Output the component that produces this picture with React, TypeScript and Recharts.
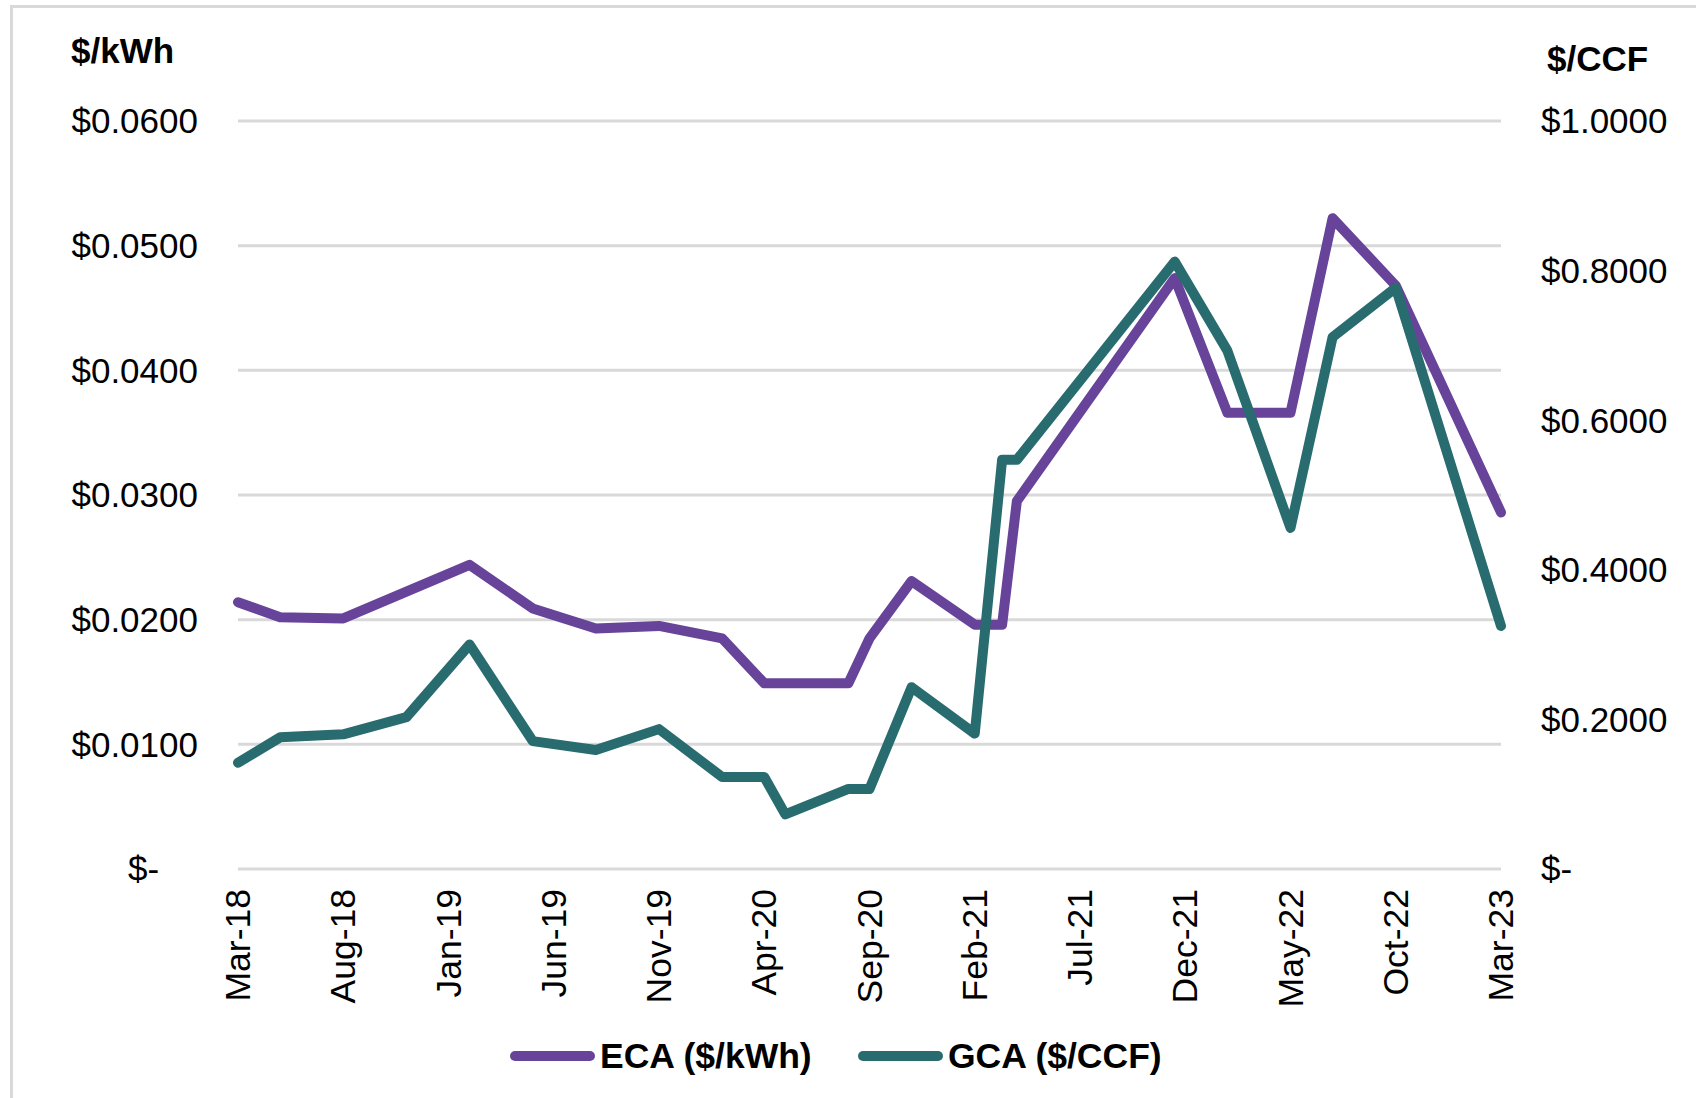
import { LineChart, Line, XAxis, YAxis, CartesianGrid } from 'recharts'

// ECA / GCA rate history, Mar-18 .. Mar-23
// x = months since Mar-18 (points are not evenly spaced)
const MONTH_INDEX = [0, 2, 5, 8, 11, 14, 17, 20, 23, 25, 26, 29, 30, 32, 35, 36.3, 37, 44.5, 47, 50, 52, 55, 60]
const ECA = [0.0214, 0.0202, 0.0201, null, 0.0244, 0.0209, 0.0193, 0.0195, 0.0185, 0.0149, null, 0.0149, 0.0185, 0.0231, 0.0196, 0.0196, 0.0295, 0.0474, 0.0366, 0.0366, 0.0522, 0.0468, 0.0286]
const GCA = [0.142, 0.176, 0.180, 0.203, 0.300, 0.171, 0.159, 0.187, 0.123, 0.123, 0.073, 0.107, 0.107, 0.243, 0.181, 0.547, 0.547, 0.812, 0.693, 0.456, 0.711, 0.777, 0.325]

const TICK_MONTHS = [0, 5, 10, 15, 20, 25, 30, 35, 40, 45, 50, 55, 60]
const TICK_LABELS = ['Mar-18', 'Aug-18', 'Jan-19', 'Jun-19', 'Nov-19', 'Apr-20', 'Sep-20', 'Feb-21', 'Jul-21', 'Dec-21', 'May-22', 'Oct-22', 'Mar-23']
const LEFT_TICKS = [0, 0.01, 0.02, 0.03, 0.04, 0.05, 0.06]
const RIGHT_TICKS = [0, 0.2, 0.4, 0.6, 0.8, 1.0]

const PURPLE = '#67439a'
const TEAL = '#286c70'
const GRID = '#d9d9d9'
const FONT = '"Liberation Sans", Arial, sans-serif'

const data = MONTH_INDEX.map((m, i) => ({ m, eca: ECA[i], gca: GCA[i] }))

// accounting style: zero shows as "$-" padded on the left axis
const fmtLeft = (v: number) => (v === 0 ? '$-\u00a0\u00a0\u00a0\u00a0' : '$' + v.toFixed(4))
const fmtRight = (v: number) => (v === 0 ? '$-' : '$' + v.toFixed(4))

// rotated month labels, reading bottom to top
// eslint-disable-next-line @typescript-eslint/no-explicit-any
function MonthTick({ x, y, payload }: any) {
  const i = TICK_MONTHS.indexOf(payload.value)
  return (
    <text
      x={x}
      y={y}
      transform={`rotate(-90 ${x} ${y})`}
      textAnchor="end"
      dominantBaseline="central"
      fontSize={35.5}
      fontFamily={FONT}
      fill="#000"
    >
      {TICK_LABELS[i]}
    </text>
  )
}

export default function App() {
  return (
    <div
      style={{
        position: 'absolute',
        left: 0,
        top: 0,
        width: 1696,
        height: 1098,
        overflow: 'hidden',
        background: '#fff',
        fontFamily: FONT,
      }}
    >
      {/* chart area frame, cut by the picture edge */}
      <div
        style={{
          position: 'absolute',
          left: 10,
          top: 5,
          width: 2000,
          height: 2000,
          border: `3px solid ${GRID}`,
        }}
      />

      <div style={{ position: 'absolute', left: 0, top: 0 }}>
        <LineChart width={1696} height={1098} data={data} margin={{ top: 121, right: 0, bottom: 99, left: 0 }}>
          <CartesianGrid horizontal vertical={false} stroke={GRID} strokeWidth={3} yAxisId="left" />

          <XAxis
            dataKey="m"
            type="number"
            domain={[0, 60]}
            ticks={TICK_MONTHS}
            interval={0}
            height={130}
            axisLine={false}
            tickLine={false}
            tickSize={0}
            tickMargin={20}
            tick={<MonthTick />}
          />

          <YAxis
            yAxisId="left"
            orientation="left"
            width={238}
            domain={[0, 0.06]}
            ticks={LEFT_TICKS}
            interval={0}
            axisLine={false}
            tickLine={false}
            tickSize={0}
            tickMargin={40}
            tickFormatter={fmtLeft}
            tick={{ fontSize: 35, fill: '#000', fontFamily: FONT }}
          />

          <YAxis
            yAxisId="right"
            orientation="right"
            width={195}
            domain={[0, 1]}
            ticks={RIGHT_TICKS}
            interval={0}
            axisLine={false}
            tickLine={false}
            tickSize={0}
            tickMargin={40}
            tickFormatter={fmtRight}
            tick={{ fontSize: 35, fill: '#000', fontFamily: FONT }}
          />

          <Line
            yAxisId="left"
            type="linear"
            dataKey="eca"
            name="ECA ($/kWh)"
            stroke={PURPLE}
            strokeWidth={10}
            strokeLinejoin="round"
            strokeLinecap="round"
            dot={false}
            activeDot={false}
            connectNulls
            isAnimationActive={false}
          />
          <Line
            yAxisId="right"
            type="linear"
            dataKey="gca"
            name="GCA ($/CCF)"
            stroke={TEAL}
            strokeWidth={10}
            strokeLinejoin="round"
            strokeLinecap="round"
            dot={false}
            activeDot={false}
            connectNulls
            isAnimationActive={false}
          />
        </LineChart>
      </div>

      {/* axis unit titles + legend */}
      <svg
        width={1696}
        height={1098}
        style={{ position: 'absolute', left: 0, top: 0, pointerEvents: 'none' }}
      >
        <text x={71} y={63} fontSize={35} fontWeight="bold" fontFamily={FONT} fill="#000">
          $/kWh
        </text>
        <text x={1547} y={71} fontSize={35} fontWeight="bold" fontFamily={FONT} fill="#000">
          $/CCF
        </text>

        <line x1={515} y1={1056} x2={590} y2={1056} stroke={PURPLE} strokeWidth={10} strokeLinecap="round" />
        <text x={600} y={1068} fontSize={35.5} fontWeight="bold" fontFamily={FONT} fill="#000">
          ECA ($/kWh)
        </text>
        <line x1={863} y1={1056} x2={938} y2={1056} stroke={TEAL} strokeWidth={10} strokeLinecap="round" />
        <text x={948} y={1068} fontSize={35.5} fontWeight="bold" fontFamily={FONT} fill="#000">
          GCA ($/CCF)
        </text>
      </svg>
    </div>
  )
}
